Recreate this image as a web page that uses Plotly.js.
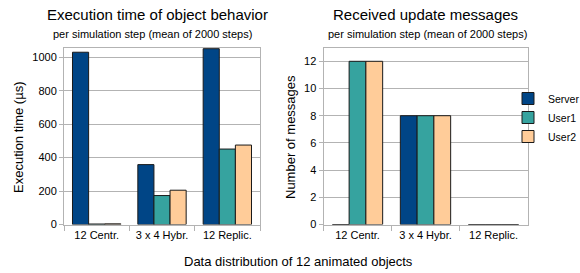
<!DOCTYPE html>
<html><head><meta charset="utf-8">
<script src="https://cdn.plot.ly/plotly-3.0.1.min.js"></script>
<style>html,body{margin:0;padding:0;background:#fff}</style>
</head><body><div id="chart" style="width:580px;height:273px"></div>
<script>
const categories = ["12 Centr.", "3 x 4 Hybr.", "12 Replic."];
const seriesNames = ["Server", "User1", "User2"];
const execServer = [1030, 358, 1051];
const execUser1 = [3, 173, 451];
const execUser2 = [4, 205, 475];
const msgServer = [0, 8, 0];
const msgUser1 = [12, 8, 0];
const msgUser2 = [12, 8, 0];
const colors = ["#004586", "#36a39f", "#ffcc99"];
const FONT = "Liberation Sans, Arial, sans-serif";

const execData = [execServer, execUser1, execUser2];
const msgData = [msgServer, msgUser1, msgUser2];
const traces = [];
seriesNames.forEach((n, i) => {
  traces.push({type: "bar", name: n, x: categories, y: execData[i], xaxis: "x", yaxis: "y",
    marker: {color: colors[i], line: {color: "#1a1a1a", width: 1}}, showlegend: false});
});
seriesNames.forEach((n, i) => {
  traces.push({type: "bar", name: n, x: categories, y: msgData[i], xaxis: "x2", yaxis: "y2",
    marker: {color: colors[i], line: {color: "#1a1a1a", width: 1}}, showlegend: true});
});

const axBase = {
  showline: true, linecolor: "#b3b3b3", mirror: true, linewidth: 1,
  tickfont: {family: FONT, size: 11, color: "#000"}, fixedrange: true
};
const xBase = Object.assign({}, axBase, {
  type: "category", ticks: "outside", ticklen: 5, tickcolor: "#b3b3b3",
  tickson: "boundaries", showgrid: false, tickangle: 0
});
const yBase = Object.assign({}, axBase, {
  showgrid: true, gridcolor: "#b3b3b3", gridwidth: 1, ticks: "outside", ticklen: 4,
  tickcolor: "#b3b3b3", zeroline: false
});

function ann(text, px, py, size, angle) {
  return {text: text, x: px/580, y: 1-py/273, xref: "paper", yref: "paper", xanchor: "center", yanchor: "middle",
    showarrow: false, textangle: angle || 0, font: {size: size, family: FONT, color: "#000"}};
}

const layout = {
  width: 580, height: 273,
  margin: {l: 0, r: 0, t: 0, b: 0, autoexpand: false},
  paper_bgcolor: "#fff", plot_bgcolor: "#fff",
  barmode: "group", bargap: 0.26, bargroupgap: 0,
  font: {family: FONT, color: "#000"},
  xaxis: Object.assign({}, xBase, {domain: [64/580, 260/580], anchor: "y"}),
  yaxis: Object.assign({}, yBase, {domain: [1-224.5/273, 1-47.7/273], range: [0, 1057], dtick: 200, anchor: "x"}),
  xaxis2: Object.assign({}, xBase, {domain: [323.5/580, 527.5/580], anchor: "y2"}),
  yaxis2: Object.assign({}, yBase, {domain: [1-224.5/273, 1-47.7/273], range: [0, 13], dtick: 2, anchor: "x2"}),
  legend: {x: 508/580, y: 1-84/273, xanchor: "left", yanchor: "top", font: {family: FONT, size: 10.5},
    tracegroupgap: 0, itemwidth: 30, bgcolor: "rgba(0,0,0,0)"},
  annotations: [
    ann("Execution time of object behavior", 157, 14, 15),
    ann("per simulation step (mean of 2000 steps)", 152, 34, 11),
    ann("Received update messages", 425, 14, 15),
    ann("per simulation step (mean of 2000 steps)", 427, 34, 11),
    ann("Execution time (µs)", 18, 137, 13, -90),
    ann("Number of messages", 290, 137, 13, -90),
    ann("Data distribution of 12 animated objects", 298, 261, 13)
  ]
};
Plotly.newPlot("chart", traces, layout, {displayModeBar: false, staticPlot: true});
</script></body></html>
